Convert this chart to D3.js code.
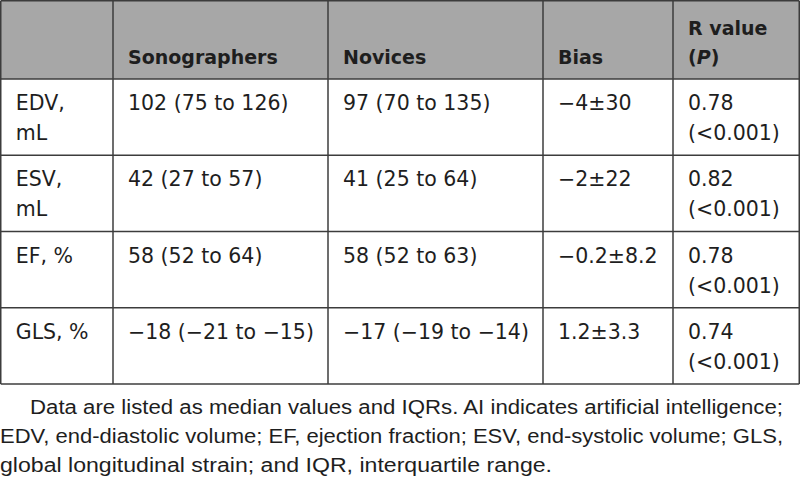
<!DOCTYPE html>
<html>
<head>
<meta charset="utf-8">
<script src="https://cdn.jsdelivr.net/npm/d3@7"></script>
<style>
  body { margin: 0; background: #fff; }
  svg { display: block; }
</style>
</head>
<body>
<svg width="800" height="483"></svg>
<script>
// table data
const headers = ['', 'Sonographers', 'Novices', 'Bias', 'R value'];
const measures = [['EDV,', 'mL'], ['ESV,', 'mL'], ['EF, %'], ['GLS, %']];
const sonographers = ['102 (75 to 126)', '42 (27 to 57)', '58 (52 to 64)', '\u221218 (\u221221 to \u221215)'];
const novices = ['97 (70 to 135)', '41 (25 to 64)', '58 (52 to 63)', '\u221217 (\u221219 to \u221214)'];
const bias = ['\u22124\u00b130', '\u22122\u00b122', '\u22120.2\u00b18.2', '1.2\u00b13.3'];
const rValues = ['0.78', '0.82', '0.78', '0.74'];
const pValues = ['(<0.001)', '(<0.001)', '(<0.001)', '(<0.001)'];
const footnote = [
    'Data are listed as median values and IQRs. AI indicates artificial intelligence;',
    'EDV, end-diastolic volume; EF, ejection fraction; ESV, end-systolic volume; GLS,',
    'global longitudinal strain; and IQR, interquartile range.'
];

let svg = d3.select('svg');
const colEdges = [0.75, 113, 328, 543, 673, 799.25];
const headTop = 0.75, headBottom = 79, tableBottom = 384;

// row scale
let y = d3.scaleBand()
    .domain(d3.range(measures.length))
    .range([headBottom, tableBottom]);

// header band
svg.append('rect')
    .attr('x', colEdges[0]).attr('y', headTop)
    .attr('width', colEdges[5] - colEdges[0]).attr('height', headBottom - headTop)
    .attr('fill', '#a7a7a7');

let txt = '#1e1e1e';
let head = svg.append('g')
    .attr('font-family', '"DejaVu Sans", sans-serif')
    .attr('font-weight', 'bold')
    .attr('font-size', 19)
    .attr('fill', txt);

headers.forEach(function(h, i){
    if (!h) return;
    head.append('text')
        .attr('x', colEdges[i] + 15)
        .attr('y', i === 4 ? 35 : 64)
        .text(h);
});
// "(P)" under R value
let pt = head.append('text').attr('x', colEdges[4] + 15).attr('y', 64);
pt.append('tspan').text('(');
pt.append('tspan').attr('font-style', 'italic').text('P');
pt.append('tspan').text(')');

// body cells
let cells = [];
measures.forEach(function(m, r){
    cells.push({c: 0, r: r, lines: m});
    cells.push({c: 1, r: r, lines: [sonographers[r]]});
    cells.push({c: 2, r: r, lines: [novices[r]]});
    cells.push({c: 3, r: r, lines: [bias[r]]});
    cells.push({c: 4, r: r, lines: [rValues[r], pValues[r]]});
});

let body = svg.append('g')
    .attr('font-family', '"DejaVu Sans", sans-serif')
    .attr('font-size', 20.5)
    .attr('fill', txt);

body.selectAll('text')
    .data(cells)
    .enter()
    .append('text')
    .attr('x', d => colEdges[d.c] + 15)
    .attr('y', d => y(d.r) + 31)
    .each(function(d){
        d3.select(this).selectAll('tspan')
            .data(d.lines)
            .enter()
            .append('tspan')
            .attr('x', colEdges[d.c] + 15)
            .attr('dy', (l, i) => i === 0 ? 0 : 30)
            .text(l => l);
    });

// grid lines
let grid = svg.append('g')
    .attr('stroke', '#3c3c3c')
    .attr('stroke-width', 1.5)
    .attr('fill', 'none');

grid.selectAll('line.v')
    .data(colEdges)
    .enter()
    .append('line')
    .attr('class', 'v')
    .attr('x1', d => d).attr('x2', d => d)
    .attr('y1', headTop).attr('y2', tableBottom);

let hLines = [headTop].concat(y.domain().map(r => y(r)), [tableBottom]);
grid.selectAll('line.h')
    .data(hLines)
    .enter()
    .append('line')
    .attr('class', 'h')
    .attr('x1', colEdges[0]).attr('x2', colEdges[5])
    .attr('y1', d => d).attr('y2', d => d);

// footnote
const noteX = [30, 0, 0];
const noteW = [753, 783, 552];
svg.append('g')
    .attr('font-family', '"Liberation Sans", Arial, sans-serif')
    .attr('font-size', 19.5)
    .attr('fill', txt)
    .selectAll('text')
    .data(footnote)
    .enter()
    .append('text')
    .attr('x', (d, i) => noteX[i])
    .attr('y', (d, i) => 414 + i * 29)
    .attr('textLength', (d, i) => noteW[i])
    .attr('lengthAdjust', 'spacingAndGlyphs')
    .text(d => d);
</script>
</body>
</html>
